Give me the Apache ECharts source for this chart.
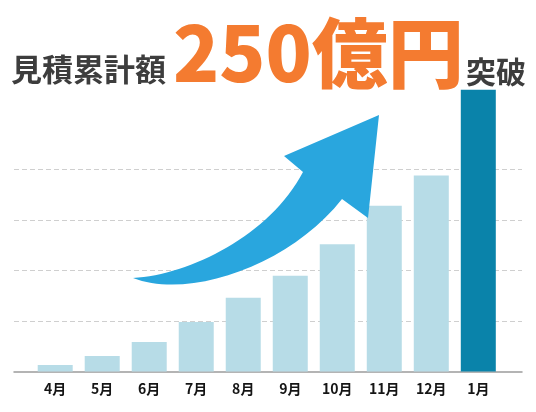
<!DOCTYPE html>
<html>
<head>
<meta charset="utf-8">
<script src="https://cdn.jsdelivr.net/npm/echarts@6/dist/echarts.min.js"></script>
<style>html,body{margin:0;padding:0;background:#fff;}#c{width:536px;height:412px;}</style>
</head>
<body>
<div id="c"></div>
<script>
const categories = ['4月', '5月', '6月', '7月', '8月', '9月', '10月', '11月', '12月', '1月'];
const values = [6.4, 15.3, 29.2, 49, 73, 94.9, 126, 164, 194, 279];
const highlightIndex = 9;
const titleLeft = '見積累計額';
const titleMain = '250億円';
const titleRight = '突破';

const ArrowShape = echarts.graphic.extendPath(
  'M133,278 C190,300 290,265 342,199 L368,218 L379,115 L284,156 L303,172 C270,235 190,275 133,278 Z', {});
echarts.graphic.registerShape('growthArrow', ArrowShape);

const chart = echarts.init(document.getElementById('c'), null, {renderer: 'canvas'});
const sh = {shadowColor: 'rgba(0,0,0,0.25)', shadowBlur: 3, shadowOffsetX: 1, shadowOffsetY: 1};
chart.setOption({
  animation: false,
  backgroundColor: '#fff',
  grid: [
    {left: 14, right: 14, top: 169.5, bottom: 40.5},
    {left: 31.7, right: 34.2, top: 68.5, bottom: 40.5}
  ],
  xAxis: [
    {gridIndex: 0, type: 'value', min: 0, max: 1,
     axisLine: {show: true, lineStyle: {color: '#9c9c9c', width: 1.5}},
     axisTick: {show: false}, axisLabel: {show: false}, splitLine: {show: false}},
    {gridIndex: 1, type: 'category', data: categories,
     axisLine: {show: false}, axisTick: {show: false},
     axisLabel: {margin: 10, color: '#151515', fontSize: 14, fontWeight: 'bold', fontFamily: 'Noto Sans CJK JP'}}
  ],
  yAxis: [
    {gridIndex: 0, type: 'value', min: 0, max: 200, interval: 50,
     axisLine: {show: false}, axisTick: {show: false}, axisLabel: {show: false},
     splitLine: {show: true, showMinLine: false, lineStyle: {color: '#cfcfcf', width: 1, type: [5, 3]}}},
    {gridIndex: 1, type: 'value', min: 0, max: 300, show: false, splitLine: {show: false}}
  ],
  series: [{
    type: 'bar', xAxisIndex: 1, yAxisIndex: 1, barWidth: 35,
    data: values.map((v, i) => ({value: v, itemStyle: {color: i === highlightIndex ? '#0a83aa' : '#b7dce7'}}))
  }],
  graphic: [
    {type: 'growthArrow', z: 100, shape: {}, style: {fill: '#29a6de'}},
    {type: 'text', z: 110, x: 11, y: 69.5,
     style: Object.assign({text: titleLeft, fill: '#3d3d3d', font: 'bold 31px "Noto Sans CJK JP"', verticalAlign: 'middle', align: 'left'}, sh)},
    {type: 'text', z: 110, x: 173, y: 53,
     style: Object.assign({text: titleMain, fill: '#f47b30', font: '900 76px "Noto Sans CJK JP"', verticalAlign: 'middle', align: 'left'}, sh)},
    {type: 'text', z: 110, x: 466, y: 72,
     style: Object.assign({text: titleRight, fill: '#3d3d3d', font: 'bold 30px "Noto Sans CJK JP"', verticalAlign: 'middle', align: 'left'}, sh)}
  ]
});
</script>
</body>
</html>
